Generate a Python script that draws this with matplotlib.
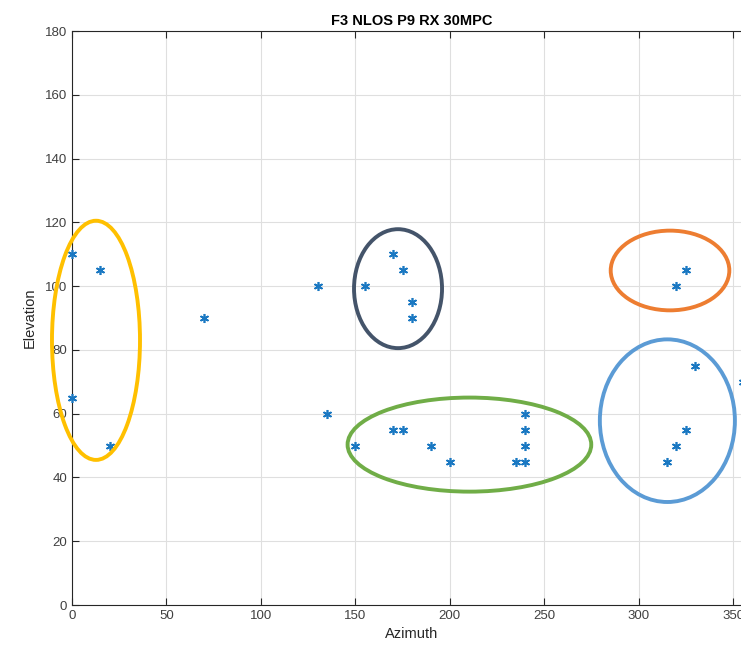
import matplotlib
matplotlib.use("Agg")
import matplotlib.pyplot as plt
from matplotlib.patches import Ellipse

plt.rcParams['font.family'] = ['Liberation Sans', 'DejaVu Sans']

azimuth = [0, 15, 0, 20, 70, 130, 155, 170, 175, 180, 180, 135,
           150, 170, 175, 190, 200, 235, 240, 240, 240, 240,
           320, 325, 330, 325, 320, 315, 355]
elevation = [110, 105, 65, 50, 90, 100, 100, 110, 105, 95, 90, 60,
             50, 55, 55, 50, 45, 45, 45, 50, 55, 60,
             100, 105, 75, 55, 50, 45, 70]

# cluster ellipses: centre azimuth, centre elevation, width, height, colour
ell_cx = [12.7, 172.6, 210.4, 316.6, 315.2]
ell_cy = [83.0, 99.2, 50.3, 104.9, 57.8]
ell_w = [46.6, 46.6, 129.0, 62.8, 71.5]
ell_h = [75.0, 37.3, 29.5, 25.0, 51.0]
ell_c = ['#FFC000', '#44546A', '#70AD47', '#ED7D31', '#5B9BD5']

xticks = [0, 50, 100, 150, 200, 250, 300, 350]
yticks = list(range(0, 181, 20))

W, H = 741, 656
fig = plt.figure(figsize=(W / 100, H / 100), dpi=100)
left, right, top, bottom = 72, 752, 31, 605
ax = fig.add_axes([left / W, 1 - bottom / H, (right - left) / W, (bottom - top) / H])

ax.plot(azimuth, elevation, linestyle='none', marker=(6, 2, 0), markersize=6.5,
        markeredgewidth=1.2, color='#1A78C2', zorder=3, clip_on=False)

for cx, cy, w, h, c in zip(ell_cx, ell_cy, ell_w, ell_h, ell_c):
    ax.add_patch(Ellipse((cx, cy), w, h, fill=False, edgecolor=c, linewidth=2.8,
                         zorder=4, clip_on=False))

ax.set_xlim(0, 360)
ax.set_ylim(0, 180)
ax.set_xticks(xticks)
ax.set_yticks(yticks)
ax.grid(True, color='#DFDFDF', linewidth=0.8)
ax.set_axisbelow(True)
ax.tick_params(direction='in', length=5, colors='#262626', labelsize=9.5, top=True, right=False)
for lbl in ax.get_xticklabels() + ax.get_yticklabels():
    lbl.set_color('#404040')
for s in ax.spines.values():
    s.set_color('#262626')
    s.set_linewidth(0.8)
ax.set_xlabel('Azimuth', fontsize=10.5, color='#262626', labelpad=4)
ax.set_ylabel('Elevation', fontsize=10.5, color='#262626', labelpad=6)
ax.set_title('F3 NLOS P9 RX 30MPC', fontsize=10.5, fontweight='bold', color='black', pad=4)

fig.savefig('out.png', dpi=100)
